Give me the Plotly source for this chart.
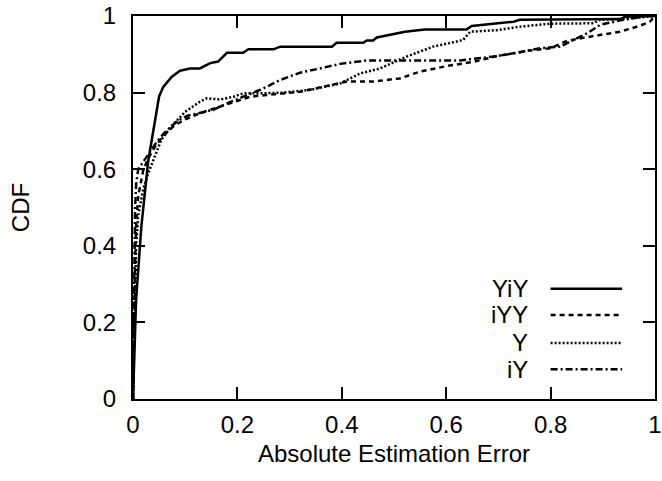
import plotly.graph_objects as go

# ---- data ----
yiy_x = [0, 0.006, 0.016, 0.029, 0.05, 0.058, 0.074, 0.09, 0.109, 0.128, 0.148, 0.163, 0.18, 0.211, 0.221,
         0.269, 0.282, 0.381, 0.39, 0.441, 0.448, 0.46, 0.467, 0.489, 0.511, 0.521, 0.559, 0.639, 0.649,
         0.684, 0.729, 0.741, 0.933, 0.943, 1.0]
yiy_y = [0, 0.26, 0.45, 0.62, 0.79, 0.815, 0.841, 0.857, 0.863, 0.863, 0.877, 0.881, 0.904, 0.904, 0.913,
         0.913, 0.92, 0.92, 0.93, 0.93, 0.936, 0.936, 0.944, 0.95, 0.956, 0.959, 0.965, 0.965, 0.974,
         0.979, 0.985, 0.99, 0.992, 0.998, 1.0]

iyy_x = [0, 0.003, 0.006, 0.01, 0.02, 0.03, 0.045, 0.06, 0.08, 0.1, 0.128, 0.166, 0.205, 0.224, 0.256,
         0.32, 0.41, 0.46, 0.511, 0.55, 0.604, 0.651, 0.7, 0.76, 0.8, 0.831, 0.875, 0.933, 0.97, 0.99, 1.0]
iyy_y = [0, 0.3, 0.45, 0.53, 0.6, 0.63, 0.665, 0.69, 0.715, 0.73, 0.746, 0.763, 0.781, 0.789, 0.794,
         0.802, 0.829, 0.829, 0.837, 0.855, 0.87, 0.88, 0.896, 0.91, 0.916, 0.935, 0.946, 0.959, 0.974,
         0.985, 1.0]

y_x = [0, 0.003, 0.006, 0.01, 0.02, 0.029, 0.042, 0.054, 0.073, 0.1, 0.128, 0.141, 0.167, 0.192, 0.211,
       0.243, 0.288, 0.339, 0.397, 0.435, 0.473, 0.524, 0.575, 0.62, 0.632, 0.646, 0.697, 0.741, 0.799,
       0.88, 0.895, 0.939, 1.0]
y_y = [0, 0.25, 0.4, 0.48, 0.55, 0.589, 0.633, 0.676, 0.711, 0.75, 0.776, 0.785, 0.782, 0.789, 0.798,
       0.798, 0.8, 0.807, 0.824, 0.85, 0.863, 0.894, 0.92, 0.933, 0.937, 0.959, 0.963, 0.972, 0.98,
       0.981, 0.99, 0.992, 1.0]

iy_x = [0, 0.002, 0.004, 0.006, 0.01, 0.02, 0.03, 0.045, 0.06, 0.086, 0.105, 0.137, 0.154, 0.18, 0.211,
        0.25, 0.282, 0.32, 0.358, 0.397, 0.448, 0.53, 0.626, 0.69, 0.736, 0.78, 0.818, 0.843, 0.87,
        0.885, 0.895, 0.939, 0.985, 1.0]
iy_y = [0, 0.3, 0.5, 0.56, 0.6, 0.62, 0.64, 0.67, 0.695, 0.727, 0.74, 0.749, 0.755, 0.772, 0.789,
        0.811, 0.833, 0.852, 0.863, 0.875, 0.884, 0.884, 0.884, 0.894, 0.904, 0.916, 0.92, 0.937, 0.955,
        0.968, 0.977, 0.99, 1.0, 1.0]

series_names = ["YiY", "iYY", "Y", "iY"]
tick_vals = [0, 0.2, 0.4, 0.6, 0.8, 1]
tick_text = ["0", "0.2", "0.4", "0.6", "0.8", "1"]

# ---- styling ----
FONT = "Liberation Sans, Arial, Helvetica, sans-serif"
FS = 24
dashes = ["solid", "5px,4px", "2px,2px", "7px,3px,2px,3px"]
xs = [yiy_x, iyy_x, y_x, iy_x]
ys = [yiy_y, iyy_y, y_y, iy_y]

fig = go.Figure()
for name, x, y, d in zip(series_names, xs, ys, dashes):
    fig.add_trace(go.Scatter(x=x, y=y, mode="lines", name=name, showlegend=False,
                             line=dict(color="black", width=2.5, dash=d)))

# gnuplot-style key: text right-aligned, sample line to the right
key_y = [0.288, 0.2195, 0.1465, 0.0775]
for name, ky, d in zip(series_names, key_y, dashes):
    fig.add_annotation(x=0.761, y=ky, xref="paper", yref="paper", text=name, showarrow=False,
                       xanchor="right", yanchor="middle", font=dict(family=FONT, size=FS, color="black"))
    fig.add_shape(type="line", xref="paper", yref="paper", x0=0.800, x1=0.937, y0=ky, y1=ky,
                  line=dict(color="black", width=2.5, dash=d))

axis_common = dict(range=[0, 1], tickvals=tick_vals, ticktext=tick_text, ticks="inside", ticklen=12,
                   tickwidth=1.5, tickcolor="black", showline=True, linecolor="black", linewidth=2,
                   mirror="allticks", showgrid=False, zeroline=False, automargin=False,
                   tickfont=dict(family=FONT, size=FS, color="black"))

fig.update_layout(
    width=662, height=481,
    margin=dict(l=133, r=7, t=16, b=82),
    paper_bgcolor="white", plot_bgcolor="white",
    font=dict(family=FONT, size=FS, color="black"),
    xaxis=dict(**axis_common, title=dict(text="Absolute Estimation Error", standoff=8,
                                         font=dict(family=FONT, size=FS, color="black")),
               ticklabelstandoff=3),
    yaxis=dict(**axis_common, title=dict(text="CDF", standoff=46,
                                         font=dict(family=FONT, size=FS, color="black")),
               ticklabelstandoff=10),
)

fig.write_html("out.html", config={"displayModeBar": False},
               post_script="document.body.style.margin='0px';")
